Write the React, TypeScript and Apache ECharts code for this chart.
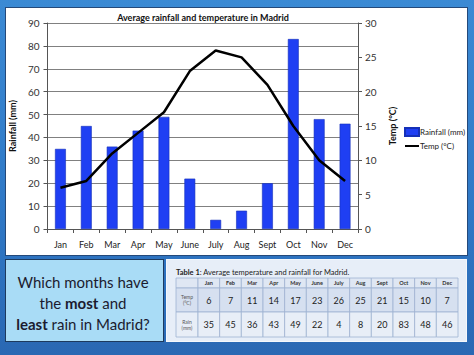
import React, { useEffect, useRef } from "react";
import * as echarts from "echarts";

const months = ["Jan", "Feb", "Mar", "Apr", "May", "June", "July", "Aug", "Sept", "Oct", "Nov", "Dec"];
const rainfall = [35, 45, 36, 43, 49, 22, 4, 8, 20, 83, 48, 46];
const temperature = [6, 7, 11, 14, 17, 23, 26, 25, 21, 15, 10, 7];
const rowLabels = ["", "Temp\n(°C)", "Rain\n(mm)"];
const questionLines = ["Which months have", "the {b|most} and", "{b|least} rain in Madrid?"];
const chartTitle = "Average rainfall and temperature in Madrid";
const tableTitle = "{b|Table 1}: Average temperature and rainfall for Madrid.";

const FONT = "Lato, 'Open Sans', sans-serif";

function buildTable() {
  const els: any[] = [];
  const left = 176;
  const firstW = 22;
  const right = 458;
  const colW = (right - left - firstW) / 12;
  const tops = [278, 288, 312];
  const hs = [10, 24, 25];
  const fills = ["#dfe7f3", "#d6e0f0", "#e8eef7"];
  for (let r = 0; r < 3; r++) {
    for (let c = 0; c < 13; c++) {
      const x = c === 0 ? left : left + firstW + (c - 1) * colW;
      const w = c === 0 ? firstW : colW;
      els.push({
        type: "rect",
        shape: { x, y: tops[r], width: w, height: hs[r] },
        style: { fill: fills[r], stroke: "#9fb2d2", lineWidth: 0.8 },
      });
      let text = "";
      let fontSize = 9;
      let fontWeight: any = "normal";
      let fill = "#222";
      if (c === 0) {
        text = rowLabels[r];
        fontSize = 5;
        fill = "#555";
      } else if (r === 0) {
        text = months[c - 1];
        fontSize = 5.5;
        fontWeight = "bold";
        fill = "#333";
      } else if (r === 1) {
        text = String(temperature[c - 1]);
      } else {
        text = String(rainfall[c - 1]);
      }
      if (text) {
        els.push({
          type: "text",
          x: x + w / 2,
          y: tops[r] + hs[r] / 2,
          style: {
            text,
            fill,
            fontSize,
            fontWeight,
            fontFamily: FONT,
            lineHeight: fontSize + 1,
            align: "center",
            verticalAlign: "middle",
            textAlign: "center",
            textVerticalAlign: "middle",
          },
        });
      }
    }
  }
  els.push({
    type: "text",
    x: 176,
    y: 272,
    style: {
      text: tableTitle,
      fill: "#222",
      fontSize: 7.5,
      fontFamily: FONT,
      align: "left",
      verticalAlign: "middle",
      textAlign: "left",
      textVerticalAlign: "middle",
      rich: { b: { fontWeight: "bold", fontSize: 7.5, fontFamily: FONT, fill: "#222" } },
    },
  });
  return els;
}

function buildQuestion() {
  return questionLines.map((t, i) => ({
    type: "text",
    x: 83,
    y: 282 + i * 21,
    style: {
      text: t,
      fill: "#1b1b2f",
      fontSize: 15,
      fontFamily: FONT,
      align: "center",
      verticalAlign: "middle",
      textAlign: "center",
      textVerticalAlign: "middle",
      rich: { b: { fontWeight: "bold", fontSize: 15, fontFamily: FONT, fill: "#1b1b2f" } },
    },
  }));
}

export default function App() {
  const ref = useRef<HTMLDivElement>(null);
  useEffect(() => {
    if (!ref.current) return;
    const chart = echarts.init(ref.current, undefined, { renderer: "svg" });
    chart.setOption({
      animation: false,
      backgroundColor: "transparent",
      textStyle: { fontFamily: FONT },
      title: {
        text: chartTitle,
        left: 198,
        top: 8,
        textAlign: "center",
        textStyle: { fontSize: 9, fontWeight: "bold", color: "#111", fontFamily: FONT },
      },
      legend: {
        orient: "vertical",
        left: 399,
        top: 122,
        itemWidth: 14,
        itemHeight: 8,
        itemGap: 5,
        textStyle: { fontSize: 8, color: "#222", fontFamily: FONT, padding: [0, 0, 0, -4] },
        data: [
          { name: "Rainfall (mm)", icon: "rect" },
          { name: "Temp (°C)", itemStyle: { opacity: 0 } },
        ],
      },
      grid: { left: 41, right: 116, top: 23, bottom: 126, containLabel: false },
      xAxis: {
        type: "category",
        data: months,
        boundaryGap: true,
        axisLine: { lineStyle: { color: "#555", width: 1 } },
        axisTick: { show: true, length: 4, lineStyle: { color: "#555" } },
        axisLabel: { fontSize: 9, color: "#222", margin: 11, interval: 0 },
      },
      yAxis: [
        {
          type: "value",
          min: 0,
          max: 90,
          interval: 10,
          name: "Rainfall (mm)",
          nameLocation: "middle",
          nameGap: 27,
          nameRotate: 90,
          nameTextStyle: { fontSize: 9, fontWeight: "bold", color: "#111" },
          axisLine: { show: true, lineStyle: { color: "#555", width: 1 } },
          axisTick: { show: true, length: 4, lineStyle: { color: "#555" } },
          axisLabel: { fontSize: 10, color: "#333", margin: 8 },
          splitLine: { show: true, lineStyle: { color: "#808080", width: 1 } },
        },
        {
          type: "value",
          min: 0,
          max: 30,
          interval: 5,
          name: "Temp (°C)",
          nameLocation: "middle",
          nameGap: 24,
          nameRotate: 90,
          nameTextStyle: { fontSize: 9, fontWeight: "bold", color: "#111" },
          axisLine: { show: true, lineStyle: { color: "#555", width: 1 } },
          axisTick: { show: true, length: 4, lineStyle: { color: "#555" } },
          axisLabel: { fontSize: 10, color: "#333", margin: 7 },
          splitLine: { show: false },
        },
      ],
      series: [
        {
          name: "Rainfall (mm)",
          type: "bar",
          data: rainfall,
          barWidth: "42%",
          itemStyle: { color: "#1f3ff3", borderColor: "#1530b8", borderWidth: 0.6 },
        },
        {
          name: "Temp (°C)",
          type: "line",
          yAxisIndex: 1,
          data: temperature,
          symbol: "none",
          lineStyle: { color: "#000", width: 2.5 },
          itemStyle: { color: "#000" },
        },
      ],
      graphic: [...buildQuestion(), ...buildTable()],
    });
    return () => chart.dispose();
  }, []);

  return (
    <div
      style={{
        position: "fixed",
        left: 0,
        top: 0,
        width: 474,
        height: 355,
        background: "linear-gradient(180deg, #3b8ad4 0%, #2f78c6 60%, #2a68b3 100%)",
        overflow: "hidden",
      }}
    >
      <div
        style={{
          position: "absolute",
          left: 5,
          top: 7,
          width: 461,
          height: 247,
          background: "#ffffff",
          border: "1px solid #24497a",
        }}
      />
      <div
        style={{
          position: "absolute",
          left: 5,
          top: 259,
          width: 157,
          height: 81,
          background: "#a9dcf6",
          border: "1px solid #1d3a5e",
        }}
      />
      <div
        style={{
          position: "absolute",
          left: 166,
          top: 259,
          width: 299,
          height: 81,
          background: "#e7eef8",
          border: "1px solid #f4f7fb",
        }}
      />
      <div ref={ref} style={{ position: "absolute", left: 0, top: 0, width: 474, height: 355 }} />
    </div>
  );
}
